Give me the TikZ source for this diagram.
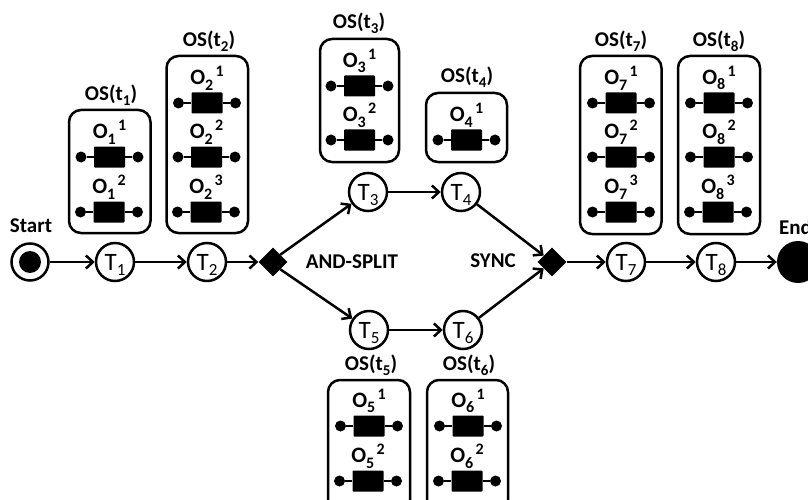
\documentclass[tikz,border=0pt]{standalone}
\usepackage{fontspec}
\setmainfont{Carlito}
\usetikzlibrary{arrows.meta,shapes.geometric}
\tikzset{
  flow/.style={line width=2.5pt,-{Straight Barb[length=7pt,width=13pt,line width=2.5pt]}},
  task/.style={circle,draw,line width=2.5pt,fill=white,minimum size=38pt,inner sep=0pt,font=\fontsize{25}{25}\selectfont},
  gate/.style={diamond,fill=black,minimum width=29pt,minimum height=29pt,inner sep=0pt},
  osbox/.style={draw,line width=2.5pt,rounded corners=12pt,fill=white},
  oslabel/.style={font=\bfseries\fontsize{21}{21}\selectfont,inner sep=0pt},
  oplabel/.style={font=\bfseries\fontsize{22}{22}\selectfont,inner sep=0pt},
  oprect/.style={fill=black,minimum width=31pt,minimum height=21pt,inner sep=0pt,rounded corners=0.8pt},
  opdot/.style={circle,fill=black,minimum size=11pt,inner sep=0pt},
  opline/.style={line width=2pt},
  caption/.style={font=\bfseries\fontsize{21}{21}\selectfont,inner sep=0pt}
}
\newcommand{\tlab}[2]{#1\raisebox{-0.22em}[0pt][0pt]{\fontsize{17}{17}\selectfont #2}}
\newcommand{\oplab}[2]{O\raisebox{-0.24em}{\fontsize{16}{16}\selectfont #1}\hspace{0.1em}\raisebox{0.38em}{\fontsize{16}{16}\selectfont #2}}
\newcommand{\oslab}[1]{OS(t\raisebox{-0.22em}{\fontsize{15}{15}\selectfont #1})}
\newcommand{\opitem}[5]{%
  \node[oprect] (r#1) at (#2,#3) {};
  \node[opdot] (a#1) at (#2-28.5,#3) {};
  \node[opdot] (b#1) at (#2+28.5,#3) {};
  \draw[opline] (a#1) -- (r#1) (r#1) -- (b#1);
  \node[oplabel] (l#1) at (#2,#3-25) {\oplab{#4}{#5}};
}
\begin{document}
\begin{tikzpicture}[x=1pt,y=-1pt]
\useasboundingbox (0,0) rectangle (808,500);
\clip (0,0) rectangle (808,500);
% boxes
\draw[osbox] (69,110) rectangle (150.5,233);
\draw[osbox] (166.5,56) rectangle (248,233);
\draw[osbox] (320,39) rectangle (399,162);
\draw[osbox] (426,93) rectangle (507,162);
\draw[osbox] (328,380) rectangle (410,512);
\draw[osbox] (427,380) rectangle (508,512);
\draw[osbox] (580,56) rectangle (661.5,234);
\draw[osbox] (678,56) rectangle (760,234);
% labels
\node[oslabel] (os1) at (111,95) {\oslab{1}};
\node[oslabel] (os2) at (209,41) {\oslab{2}};
\node[oslabel] (os3) at (359,23) {\oslab{3}};
\node[oslabel] (os4) at (467,77) {\oslab{4}};
\node[oslabel] (os5) at (371,365) {\oslab{5}};
\node[oslabel] (os6) at (469,365) {\oslab{6}};
\node[oslabel] (os7) at (621,41) {\oslab{7}};
\node[oslabel] (os8) at (719,41) {\oslab{8}};
% operations
\opitem{11}{109.5}{157}{1}{1}
\opitem{12}{109}{212}{1}{2}
\opitem{21}{207}{103}{2}{1}
\opitem{22}{206.5}{157}{2}{2}
\opitem{23}{206}{212}{2}{3}
\opitem{31}{359.5}{86}{3}{1}
\opitem{32}{359.5}{140}{3}{2}
\opitem{41}{466.5}{140}{4}{1}
\opitem{51}{369}{426}{5}{1}
\opitem{52}{368}{481}{5}{2}
\opitem{61}{468}{426}{6}{1}
\opitem{62}{467}{481}{6}{2}
\opitem{71}{621}{103}{7}{1}
\opitem{72}{621}{157}{7}{2}
\opitem{73}{621}{212}{7}{3}
\opitem{81}{719}{103}{8}{1}
\opitem{82}{719}{157}{8}{2}
\opitem{83}{718}{212}{8}{3}
% flow nodes
\node[task,minimum size=37pt] (start) at (30,262) {};
\node[circle,fill=black,minimum size=22pt,inner sep=0pt] (startdot) at (30,262) {};
\node[task] (t1) at (115,262) {\tlab{T}{1}};
\node[task] (t2) at (207,262) {\tlab{T}{2}};
\node[gate] (split) at (273,262) {};
\node[task] (t3) at (368,192) {\tlab{T}{3}};
\node[task] (t4) at (461,192) {\tlab{T}{4}};
\node[task] (t5) at (369,330) {\tlab{T}{5}};
\node[task] (t6) at (463,330) {\tlab{T}{6}};
\node[gate] (sync) at (552,262) {};
\node[task] (t7) at (626,262) {\tlab{T}{7}};
\node[task] (t8) at (716,262) {\tlab{T}{8}};
\node[circle,fill=black,minimum size=42pt,inner sep=0pt] (end) at (798,262) {};
% captions
\node[caption] (startlab) at (31,226) {Start};
\node[caption,anchor=west] (endlab) at (779,227) {End};
\node[caption] (andsplit) at (352,262) {AND-SPLIT};
\node[caption] (synclab) at (493,261) {SYNC};
% connectors
\draw[flow] (start) -- (t1);
\draw[flow] (t1) -- (t2);
\draw[flow] (t2) -- (split);
\draw[flow] (split.north east) -- (t3);
\draw[flow] (split.south east) -- (t5);
\draw[flow] (t3) -- (t4);
\draw[flow] (t5) -- (t6);
\draw[flow] (t4) -- (sync);
\draw[flow] (t6) -- (sync);
\draw[flow] (sync) -- (t7);
\draw[flow] (t7) -- (t8);
\draw[flow] (t8) -- (end);
\end{tikzpicture}
\end{document}
